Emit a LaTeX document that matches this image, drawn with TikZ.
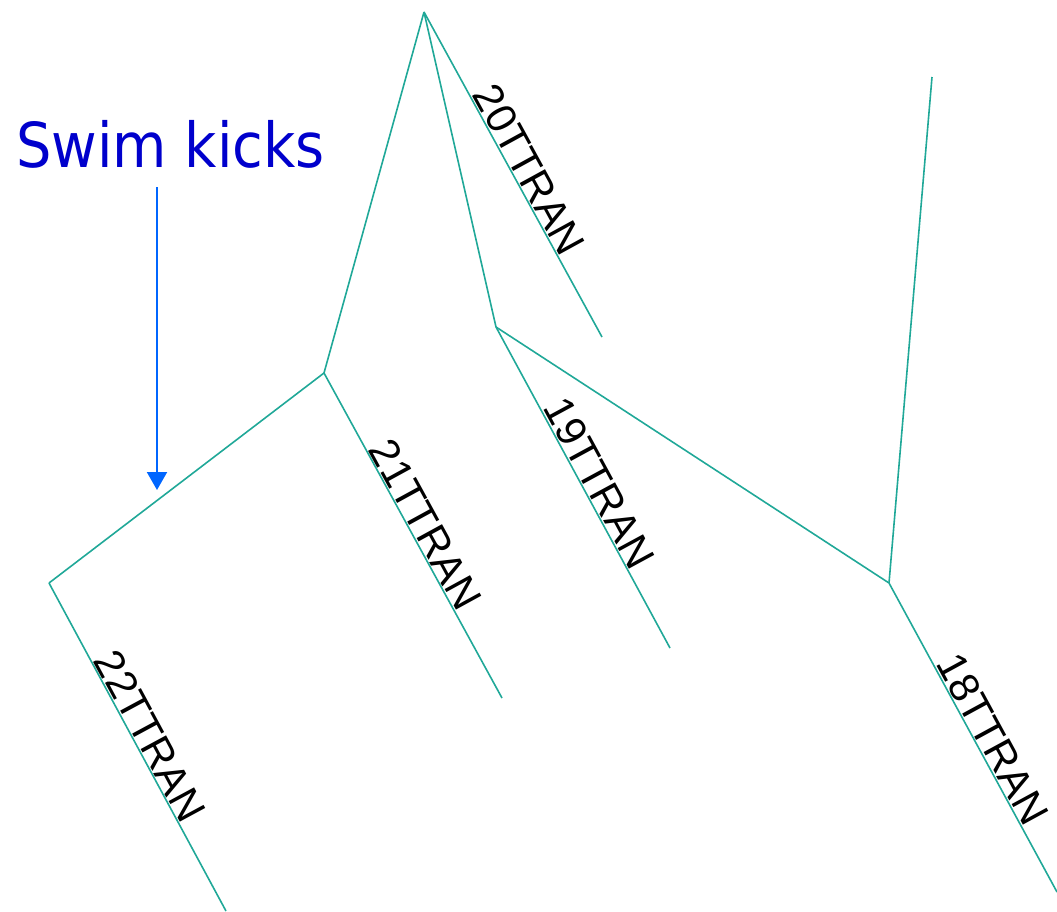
\documentclass[tikz,border=0pt]{standalone}
\usepackage{fontspec}
\usetikzlibrary{arrows.meta}
\newfontfamily\swimfont{DejaVu Sans}[FakeStretch=0.9]
\newfontfamily\tranfont{Liberation Sans}
\definecolor{tranteal}{RGB}{32,168,152}
\definecolor{swimblue}{RGB}{0,0,204}
\definecolor{kickblue}{RGB}{0,102,255}
\begin{document}
\begin{tikzpicture}[x=1pt,y=-1pt]
\tikzstyle{tran}=[draw=tranteal, line width=1.6pt]
\tikzstyle{lbl}=[sloped, above, inner sep=1pt, font=\tranfont\fontsize{42}{42}\selectfont]
\tikzstyle{kick}=[draw=kickblue, line width=2pt, -{Triangle[width=20pt,length=18pt]}]
\useasboundingbox (0,0) rectangle (1057,911);
% junctions
\coordinate (top) at (424,12);
\coordinate (j21) at (324,373);
\coordinate (j19) at (496,327);
\coordinate (j18) at (889,583);
\coordinate (j22) at (49,583);
% free ends
\coordinate (e20) at (602,337);
\coordinate (e19) at (670,648);
\coordinate (e21) at (502,698);
\coordinate (e22) at (226,911);
\coordinate (e18) at (1057,892);
\coordinate (eup) at (932,77);
\draw [tran] (top) -- (j21);
\draw [tran] (top) -- (j19);
\draw [tran] (top) -- node[lbl, pos=0.51] {20TTRAN} (e20);
\draw [tran] (j19) -- (j18);
\draw [tran] (j19) -- node[lbl, pos=0.51] {19TTRAN} (e19);
\draw [tran] (j21) -- (j22);
\draw [tran] (j21) -- node[lbl, pos=0.49] {21TTRAN} (e21);
\draw [tran] (j22) -- node[lbl, pos=0.49] {22TTRAN} (e22);
\draw [tran] (j18) -- (eup);
\draw [tran] (j18) -- node[lbl, pos=0.53] {18TTRAN} (e18);
% label and arrow
\node (swim) [anchor=base, inner sep=0pt, text=swimblue, font=\swimfont\fontsize{62}{62}\selectfont] at (170.5,167) {Swim kicks};
\coordinate (kt) at (157,187);
\coordinate (kb) at (157,490);
\draw [kick] (kt) -- (kb);
\end{tikzpicture}
\end{document}
